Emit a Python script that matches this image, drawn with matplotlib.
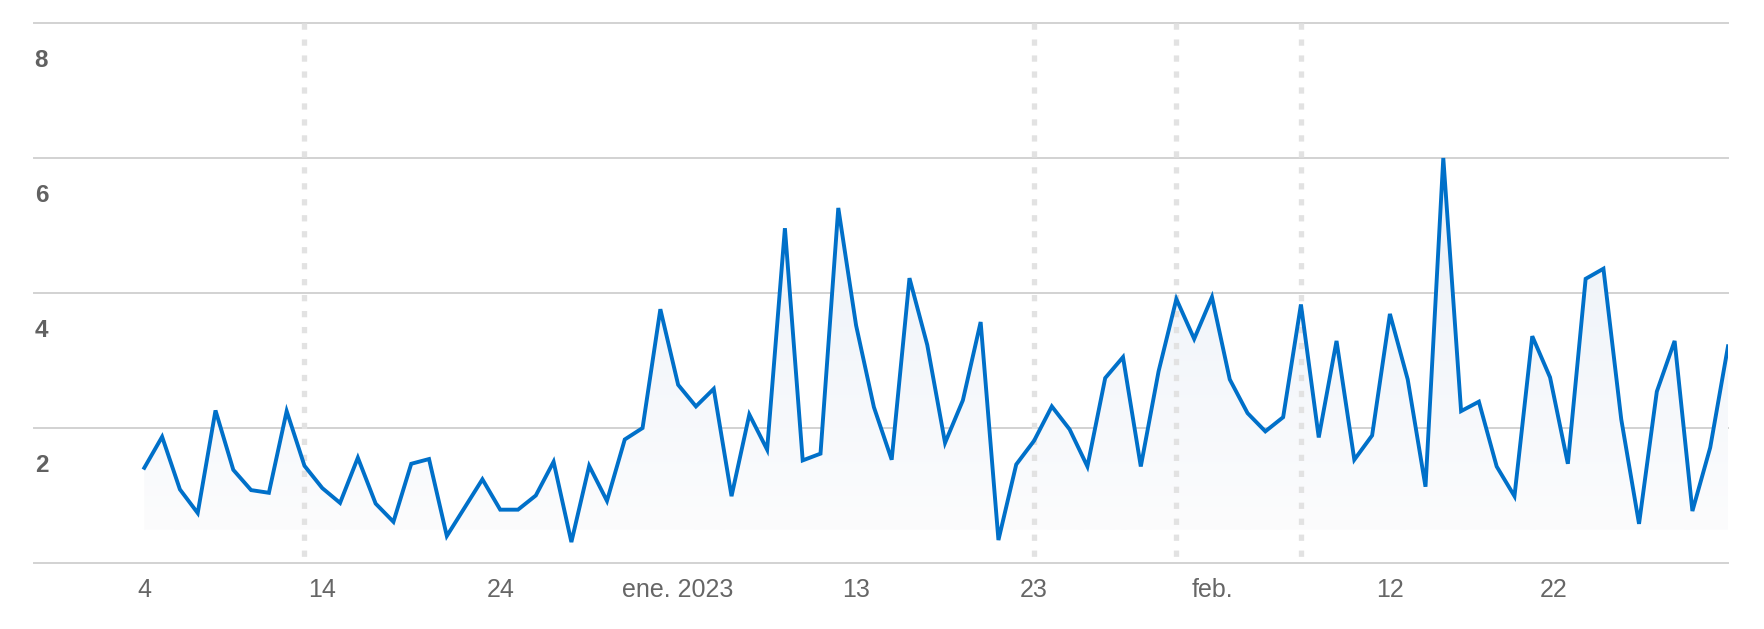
import matplotlib
matplotlib.use("Agg")
import matplotlib.pyplot as plt
import matplotlib.transforms as mtransforms
import numpy as np
from matplotlib.colors import LinearSegmentedColormap

# ---- data (daily values, 4 Dec 2022 -> 3 Mar 2023) ----
dec_values = [1.41, 1.87, 1.09, 0.74, 2.26, 1.38, 1.08, 1.04, 2.25, 1.44,
              1.11, 0.89, 1.56, 0.88, 0.61, 1.47, 1.54, 0.40, 0.82, 1.24,
              0.79, 0.79, 1.00, 1.50, 0.31, 1.44, 0.92, 1.83]
jan_values = [2.00, 3.76, 2.64, 2.32, 2.58, 0.99, 2.20, 1.68, 4.96, 1.52,
              1.62, 5.26, 3.52, 2.31, 1.53, 4.22, 3.23, 1.78, 2.41, 3.57,
              0.34, 1.46, 1.81, 2.32, 1.98, 1.43, 2.74, 3.05, 1.43, 2.84,
              3.91]
feb_values = [3.32, 3.94, 2.72, 2.22, 1.95, 2.16, 3.83, 1.86, 3.29, 1.53,
              1.89, 3.69, 2.72, 1.13, 6.00, 2.25, 2.39, 1.43, 0.99, 3.36,
              2.75, 1.47, 4.21, 4.36, 2.13, 0.58, 2.54, 3.29]
mar_values = [0.77, 1.71, 3.21]
values = dec_values + jan_values + feb_values + mar_values

# day index 0 = 4 Dec 2022
tick_days = [0, 10, 20, 30, 40, 50, 60, 70, 79.2]
tick_labels = ["4", "14", "24", "ene. 2023", "13", "23", "feb.", "12", "22"]
y_ticks = [0, 2, 4, 6, 8]
y_labels = ["", "2", "4", "6", "8"]
marker_days = [9, 50, 58, 65]   # 13 Dec, 23 Jan, 31 Jan, 7 Feb

W, H = 1765, 629
plt.rcParams['font.family'] = ['Liberation Sans', 'DejaVu Sans']
plt.rcParams['lines.scale_dashes'] = False

fig = plt.figure(figsize=(W / 100, H / 100), dpi=100)
fig.patch.set_facecolor('white')
left, right, top, bottom = 34, 1728, 23, 563
ax = fig.add_axes([left / W, (H - bottom) / H, (right - left) / W, (bottom - top) / H])
ax.set_facecolor('white')

x = np.arange(len(values))
y = np.array(values)

ax.set_xlim(-6.2, 89)
ax.set_ylim(0, 8)

# gridlines
for v in y_ticks:
    ax.axhline(v, color='#d2d2d2', lw=1.4, zorder=1, clip_on=False)

# gradient fill under the line
poly = ax.fill_between(x, y, 0, color='none', lw=0, zorder=2)
cmap = LinearSegmentedColormap.from_list('g', ['#fcfcfd', '#ebf1f8'])
grad = np.linspace(0, 1, 256).reshape(-1, 1)
img = ax.imshow(grad, extent=[x[0], x[-1], 0.49, 6.0], origin='lower',
                cmap=cmap, aspect='auto', zorder=2, interpolation='bilinear')
path = poly.get_paths()[0]
img.set_clip_path(path, transform=ax.transData)

# vertical dotted markers
for d in marker_days:
    ax.plot([d, d], [8, 0], color='#e2e2e2', lw=3.8,
            linestyle=(0, (4.5, 7.0)), solid_capstyle='butt',
            dash_capstyle='butt', zorder=3)

# main line
ax.plot(x, y, color='#0070c9', lw=2.8, zorder=4, solid_joinstyle='miter')

# y labels (below gridlines)
offset = mtransforms.ScaledTranslation(0.7 / 100, -44 / 100, fig.dpi_scale_trans)
trans = mtransforms.blended_transform_factory(ax.transAxes, ax.transData) + offset
for v, lab in zip(y_ticks, y_labels):
    if lab:
        ax.text(0, v, lab, transform=trans, ha='left', va='baseline',
                fontsize=17.5, fontweight='bold', color='#616161', zorder=5)

ax.set_yticks([])
ax.set_xticks(tick_days)
ax.set_xticklabels(tick_labels)
ax.tick_params(axis='x', length=0, pad=24.5, labelsize=18, labelcolor='#666666')
for lab in ax.get_xticklabels():
    lab.set_va('baseline')

for s in ax.spines.values():
    s.set_visible(False)

fig.savefig('out.png', dpi=100, facecolor='white')
